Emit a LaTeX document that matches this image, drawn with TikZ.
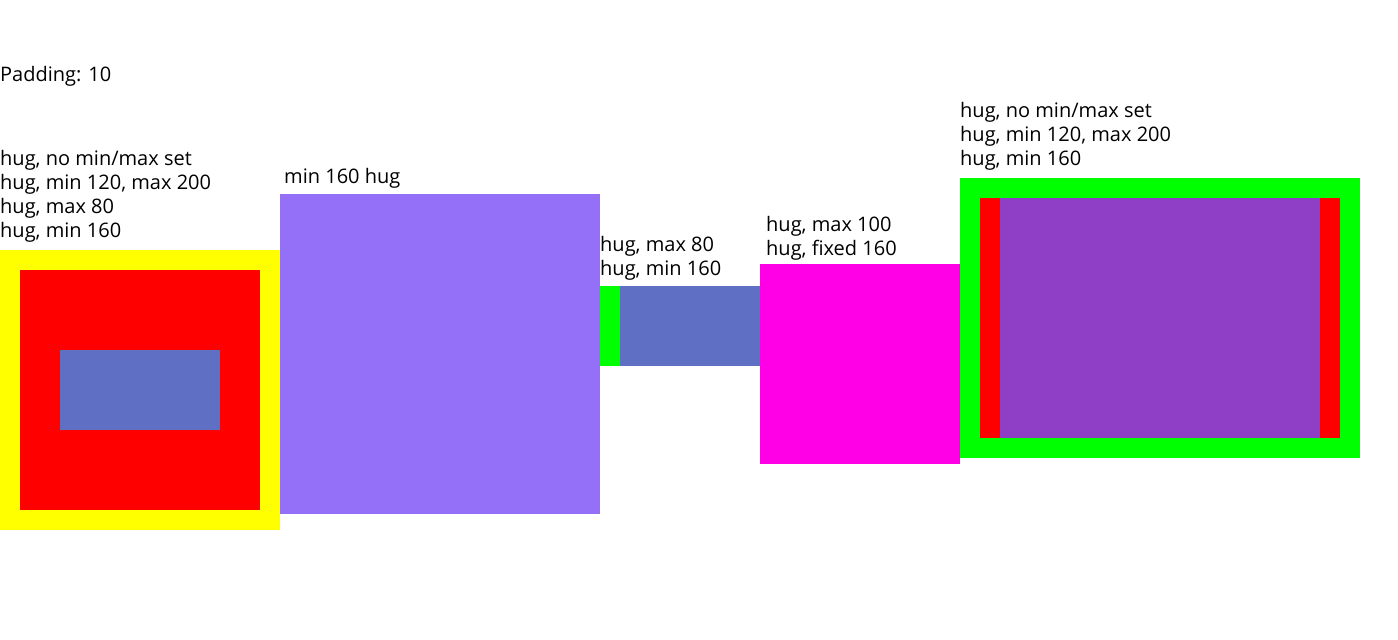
\documentclass[tikz,border=0pt]{standalone}
\usepackage{fontspec}
\setmainfont{Open Sans}
\usepackage{xcolor}
\definecolor{hugyellow}{HTML}{FFFF00}
\definecolor{hugred}{HTML}{FF0000}
\definecolor{huggreen}{HTML}{00FF00}
\definecolor{hugblue}{HTML}{5F6FC4}
\definecolor{huglilac}{HTML}{9370F7}
\definecolor{hugmagenta}{HTML}{FF00E6}
\definecolor{hugplum}{HTML}{8F3EC6}

\begin{document}
\begin{tikzpicture}[x=1pt,y=-1pt,
  label/.style={anchor=base west,inner sep=0pt,font=\fontsize{20}{24}\selectfont}
]
  \useasboundingbox (0,0) rectangle (1398,640);
  % frame 1: nested hug boxes
  \fill[hugyellow] (0,250) rectangle (280,530);
  \fill[hugred] (20,270) rectangle (260,510);
  \fill[hugblue] (60,350) rectangle (220,430);
  % frame 2
  \fill[huglilac] (280,194) rectangle (600,514);
  % frame 3
  \fill[huggreen] (600,286) rectangle (620,366);
  \fill[hugblue] (620,286) rectangle (760,366);
  % frame 4
  \fill[hugmagenta] (760,264) rectangle (960,464);
  % frame 5
  \fill[huggreen] (960,178) rectangle (1360,458);
  \fill[hugred] (980,198) rectangle (1340,438);
  \fill[hugplum] (1000,198) rectangle (1320,438);
  % labels
  \node[label] (padding) at (0,81) {Padding: 10};
  \foreach \txt [count=\i] in {{hug, no min/max set},{hug, min 120, max 200},{hug, max 80},{hug, min 160}}
    \node[label] (lefttxt\i) at (0,141+24*\i) {\txt};
  \node[label] (lilactxt) at (284,183) {min 160 hug};
  \foreach \txt [count=\i] in {{hug, max 80},{hug, min 160}}
    \node[label] (greentxt\i) at (600,227+24*\i) {\txt};
  \foreach \txt [count=\i] in {{hug, max 100},{hug, fixed 160}}
    \node[label] (magentatxt\i) at (766,207+24*\i) {\txt};
  \foreach \txt [count=\i] in {{hug, no min/max set},{hug, min 120, max 200},{hug, min 160}}
    \node[label] (righttxt\i) at (960,93+24*\i) {\txt};
\end{tikzpicture}
\end{document}
